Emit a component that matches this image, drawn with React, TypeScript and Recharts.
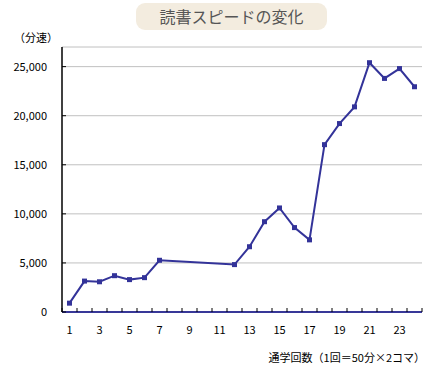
import React from 'react';
import { LineChart, Line, XAxis, YAxis, CartesianGrid } from 'recharts';

// 通学回数 1..24 (8〜11回は記録なし)
const sessions = [1, 2, 3, 4, 5, 6, 7, 8, 9, 10, 11, 12, 13, 14, 15, 16, 17, 18, 19, 20, 21, 22, 23, 24];
const speeds: (number | null)[] = [
  900, 3150, 3080, 3700, 3300, 3500, 5270, null, null, null, null, 4830,
  6650, 9200, 10600, 8600, 7350, 17050, 19200, 20900, 25400, 23800, 24800, 22950,
];
const xLabelTicks = [1, 3, 5, 7, 9, 11, 13, 15, 17, 19, 21, 23];
const yTicks = [0, 5000, 10000, 15000, 20000, 25000];

const data = sessions.map((n, i) => ({ n, speed: speeds[i] }));
// tick marks sit on the borders between sessions
const xBoundaryTicks = [0.5, ...sessions.map((n) => n + 0.5)];

const LINE = '#333399';
const JP = '"Noto Sans CJK JP", "Noto Sans", sans-serif';
const PLOT_W = 360;

const SquareDot = (props: any) => {
  const { cx, cy, payload } = props;
  if (payload == null || payload.speed == null || cx == null || cy == null) return <g />;
  return <rect x={cx - 2.5} y={cy - 2.5} width={5} height={5} fill={LINE} />;
};

// draws the session label half a band to the right of the border tick
const XLabel = (props: any) => {
  const { x, y, payload } = props;
  const n = payload.value + 0.5;
  if (!xLabelTicks.includes(n)) return <g />;
  const half = PLOT_W / sessions.length / 2;
  return (
    <text x={x + half} y={y} dy={26} textAnchor="middle" fill="#000" fontSize={11} fontFamily={JP}>
      {n}
    </text>
  );
};

export default function App() {
  return (
    <div style={{ position: 'absolute', left: 0, top: 0, width: 432, height: 368, background: '#fff', fontFamily: JP }}>
      <div
        style={{
          position: 'absolute', left: 136, top: 3, width: 191, height: 27,
          background: '#f3ecdf', borderRadius: 9, color: '#555',
          fontSize: 16, lineHeight: '27px', textAlign: 'center',
        }}
      >
        読書スピードの変化
      </div>
      <div style={{ position: 'absolute', left: 14, top: 30, fontSize: 11, lineHeight: '14px', color: '#000' }}>
        （分速）
      </div>
      <div style={{ position: 'absolute', right: 7, top: 350, fontSize: 11, lineHeight: '14px', color: '#000', whiteSpace: 'nowrap' }}>
        通学回数（1回＝50分×2コマ）
      </div>
      <LineChart
        width={432}
        height={368}
        data={data}
        margin={{ top: 47, right: 10, left: 0, bottom: 26 }}
      >
        <CartesianGrid vertical={false} stroke="#c0c0c0" />
        <XAxis
          dataKey="n"
          type="number"
          domain={[0.5, 24.5]}
          ticks={xBoundaryTicks}
          interval={0}
          minTickGap={0}
          height={30}
          tickSize={-4}
          tickMargin={0}
          tick={<XLabel />}
          axisLine={{ stroke: '#000080', strokeWidth: 1.5 }}
          tickLine={{ stroke: '#000' }}
        />
        <YAxis
          width={62}
          domain={[0, 27000]}
          ticks={yTicks}
          interval={0}
          tickSize={-4}
          tickMargin={19}
          axisLine={{ stroke: '#000', strokeWidth: 1.5 }}
          tickLine={{ stroke: '#000' }}
          tick={{ fill: '#000', fontSize: 11, fontFamily: JP }}
          tickFormatter={(v: number) => v.toLocaleString('en-US')}
        />
        <Line
          dataKey="speed"
          stroke={LINE}
          strokeWidth={2}
          connectNulls
          dot={<SquareDot />}
          activeDot={false}
          isAnimationActive={false}
        />
      </LineChart>
    </div>
  );
}
